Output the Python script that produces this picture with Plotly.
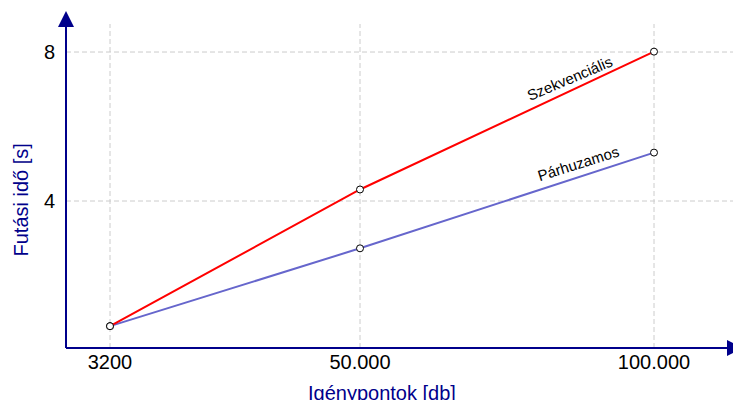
import plotly.graph_objects as go

# ---- data ----
categories = ["3200", "50.000", "100.000"]
x_axis_pos = [0.0, 1.0, 2.176]          # where each category sits on the (uneven) x axis
szekvencialis = [0.64, 4.31, 8.01]       # Futási idő [s]
parhuzamos = [0.64, 2.73, 5.30]
y_ticks = [4, 8]
y_tick_labels = ["4", "8"]

NAVY = "#00008B"
FONT = "Arial, Liberation Sans, sans-serif"

fig = go.Figure()

marker = dict(size=7, color="white", line=dict(color="black", width=1))

fig.add_trace(go.Scatter(x=x_axis_pos, y=parhuzamos, mode="lines+markers",
                         line=dict(color="#6666CC", width=2), marker=marker,
                         name="Párhuzamos", cliponaxis=False))
fig.add_trace(go.Scatter(x=x_axis_pos, y=szekvencialis, mode="lines+markers",
                         line=dict(color="#FF0000", width=2), marker=marker,
                         name="Szekvenciális", cliponaxis=False))

# plot area: left 66px, right edge 733px, top 10px, bottom 348px
W, H = 733, 400
ml, mr, mt, mb = 66, 0, 10, 52

GRID = dict(color="#CCCCCC", width=1, dash="5px,3px")
shapes = []
# vertical dashed grid lines
for xv in x_axis_pos:
    shapes.append(dict(type="line", xref="x", yref="paper", x0=xv, x1=xv,
                       y0=0, y1=(348 - 24) / 338, line=GRID, layer="below"))
# horizontal dashed grid lines
for yv in y_ticks:
    shapes.append(dict(type="line", xref="paper", yref="y", x0=0, x1=1,
                       y0=yv, y1=yv, line=GRID, layer="below"))
# axis lines
shapes.append(dict(type="line", xref="paper", yref="paper", x0=0, x1=0, y0=0, y1=0.955,
                   line=dict(color=NAVY, width=2)))
shapes.append(dict(type="line", xref="paper", yref="paper", x0=0, x1=0.995, y0=0, y1=0,
                   line=dict(color=NAVY, width=2)))
# arrowheads
shapes.append(dict(type="path", xref="paper", yref="paper",
                   path="M -0.012,0.950 L 0,0.997 L 0.012,0.950 Z",
                   fillcolor=NAVY, line=dict(color=NAVY, width=0)))
shapes.append(dict(type="path", xref="paper", yref="paper",
                   path="M 0.991,0.0237 L 1.015,0 L 0.991,-0.0237 Z",
                   fillcolor=NAVY, line=dict(color=NAVY, width=0)))

annotations = [
    dict(text="Szekvenciális", x=1.836, y=7.30, xref="x", yref="y", showarrow=False,
         textangle=-23, font=dict(family=FONT, size=15, color="black")),
    dict(text="Párhuzamos", x=1.872, y=5.02, xref="x", yref="y", showarrow=False,
         textangle=-17.5, font=dict(family=FONT, size=15, color="black")),
    dict(text="Futási idő [s]", x=(20 - 66) / 667, y=(348 - 200.5) / 338,
         xref="paper", yref="paper", showarrow=False, textangle=-90,
         xanchor="center", yanchor="middle",
         font=dict(family=FONT, size=20, color=NAVY)),
    dict(text="Igénypontok [db]", x=(382 - 66) / 667, y=(348 - 393) / 338,
         xref="paper", yref="paper", showarrow=False,
         xanchor="center", yanchor="middle",
         font=dict(family=FONT, size=20, color=NAVY)),
]

fig.update_layout(
    width=W, height=H,
    margin=dict(l=ml, r=mr, t=mt, b=mb),
    paper_bgcolor="white", plot_bgcolor="white",
    showlegend=False,
    shapes=shapes, annotations=annotations,
    font=dict(family=FONT, size=20, color="black"),
    xaxis=dict(range=[-0.176, 2.492], tickvals=x_axis_pos, ticktext=categories,
               showgrid=False, zeroline=False, showline=False, ticks="",
               ticklabelstandoff=0, tickfont=dict(family=FONT, size=20, color="black"),
               fixedrange=True),
    yaxis=dict(range=[0.054, 9.128], tickvals=y_ticks, ticktext=y_tick_labels,
               showgrid=False, zeroline=False, showline=False, ticks="",
               ticklabelstandoff=10, tickfont=dict(family=FONT, size=20, color="black"),
               fixedrange=True),
)

fig.write_html("out.html", config={"displayModeBar": False},
               post_script="document.body.style.margin='0';document.body.style.overflow='hidden';")
